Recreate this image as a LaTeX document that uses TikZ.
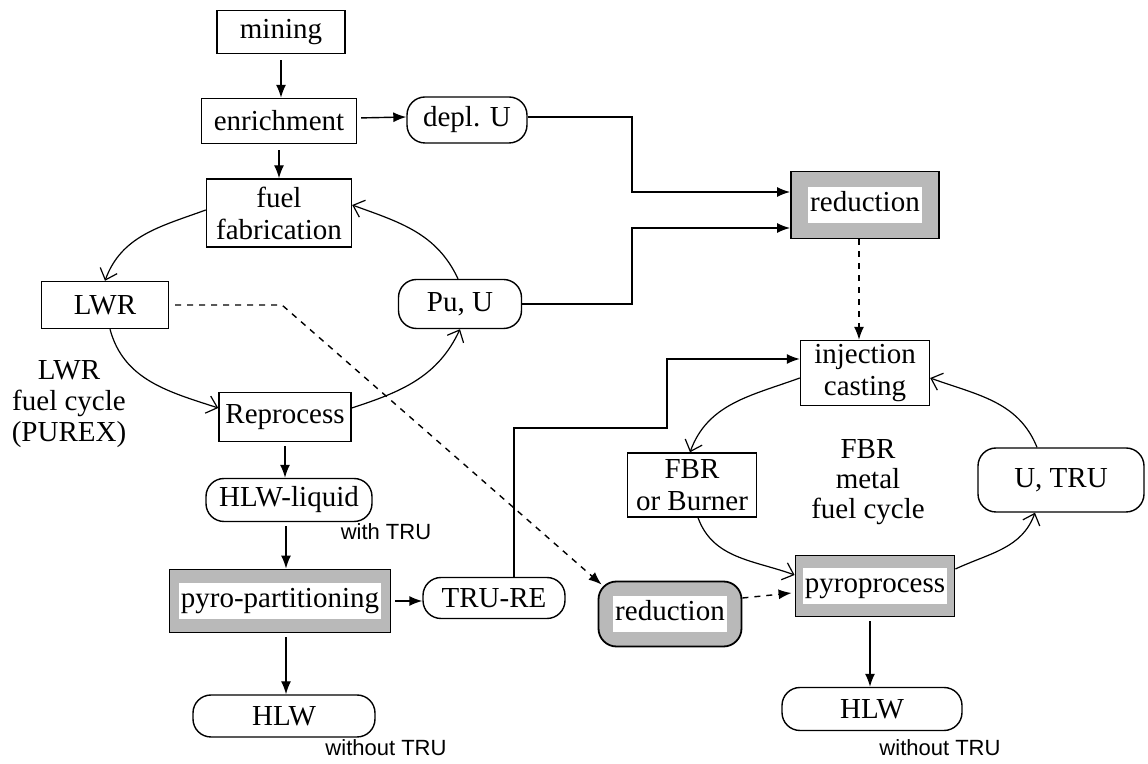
\documentclass[tikz,border=0pt]{standalone}
\usepackage{fontspec}
\setmainfont{Liberation Serif}
\newfontfamily\labfont{Liberation Sans}
\usetikzlibrary{arrows.meta,calc}
\newcommand\wbox[1]{{\setlength{\fboxsep}{1pt}\colorbox{white}{\strut #1}}}
\begin{document}
\begin{tikzpicture}[x=0.5pt,y=0.5pt,
  font=\fontsize{14.5}{16}\selectfont,
  box/.style={draw, line width=0.7pt, inner sep=0pt, align=center},
  pill/.style={box, rounded corners=9pt},
  shadebox/.style={box, fill=gray!55, line width=0.9pt},
  arr/.style={line width=0.7pt, -{Latex[length=6.5pt,width=5pt]}},
  cyc/.style={line width=0.6pt, -{Straight Barb[length=5pt,width=9pt]}},
  dsh/.style={arr, dash pattern=on 3pt off 3pt},
  note/.style={font=\labfont\fontsize{11}{12}\selectfont, inner sep=0pt}]
\useasboundingbox (0,0) rectangle (1148,-764);

% left column
\node[box, minimum width=64pt, minimum height=21.5pt] (mining) at (281,-32) {mining};
\node[box, minimum width=77.5pt, minimum height=22.5pt] (enrich) at (279,-121) {enrichment};
\node[pill, minimum width=60pt, minimum height=23pt] (deplU) at (467,-120) {depl. U};
\node[box, minimum width=72.5pt, minimum height=34pt] (fab) at (279,-213) {fuel\\fabrication};
\node[box, minimum width=63.5pt, minimum height=23.5pt] (LWR) at (105,-305) {LWR};
\node[pill, minimum width=61.5pt, minimum height=24.5pt] (PuU) at (460,-304) {Pu, U};
\node[box, minimum width=66pt, minimum height=24.5pt] (Rep) at (285,-417) {Reprocess};
\node[pill, minimum width=83pt, minimum height=21.5pt] (HLWliq) at (289,-500) {HLW-liquid};
\node[shadebox, minimum width=110.5pt, minimum height=31.5pt] (pp) at (280,-601) {\wbox{pyro-partitioning}};
\node[pill, minimum width=71pt, minimum height=20.5pt] (TRURE) at (494,-598) {TRU-RE};
\node[pill, minimum width=91pt, minimum height=21pt] (HLWL) at (284,-716) {HLW};

\node[align=center, font=\fontsize{14.5}{15.5}\selectfont] (lwrtxt) at (69,-404) {LWR\\fuel cycle\\(PUREX)};
\node[note] (withtru) at (386,-532) {with TRU};
\node[note] (wo1) at (386,-748) {without TRU};

% right column
\node[shadebox, minimum width=74pt, minimum height=33.5pt] (redtop) at (865,-205) {\wbox{reduction}};
\node[box, minimum width=64.5pt, minimum height=32.5pt] (inj) at (865,-373) {injection\\casting};
\node[box, minimum width=64.5pt, minimum height=32pt] (FBR) at (692,-485) {FBR\\or Burner};
\node[pill, minimum width=83pt, minimum height=32pt] (UTRU) at (1061,-480) {U, TRU};
\node[shadebox, minimum width=79.5pt, minimum height=30.5pt] (pyro) at (875,-586) {\wbox{pyroprocess}};
\node[shadebox, rounded corners=9pt, minimum width=71.5pt, minimum height=32.5pt] (redbot) at (670,-614) {\wbox{reduction}};
\node[pill, minimum width=90pt, minimum height=21.5pt] (HLWR) at (872,-709) {HLW};
\node[align=center, font=\fontsize{14.5}{15}\selectfont] (fbrtxt) at (868,-482) {FBR\\metal\\fuel cycle};
\node[note] (wo2) at (940,-748) {without TRU};

% straight connectors
\draw[arr, shorten <=3pt] (mining.south) -- (mining.south |- enrich.north);
\draw[arr, shorten <=3pt] (enrich.south) -- (enrich.south |- fab.north);
\draw[arr, shorten <=2pt] ($(enrich.east)+(0,3)$) -- ($(deplU.west)+(0,3)$);
\draw[arr, shorten <=2pt] (Rep.south) -- (Rep.south |- HLWliq.north);
\draw[arr, shorten <=2pt] ($(HLWliq.south)+(-3,0)$) -- ($(HLWliq.south |- pp.north)+(-3,0)$);
\draw[arr, shorten <=2pt] ($(pp.south)+(6,0)$) -- ($(pp.south |- HLWL.north)+(6,0)$);
\draw[arr, shorten <=2pt] (pp.east) -- (pp.east -| TRURE.west);
\draw[arr, shorten <=2pt] ($(pyro.south)+(-5,0)$) -- ($(pyro.south |- HLWR.north)+(-5,0)$);

\draw[arr] ($(deplU.east)+(0,3)$) -| (632,-192) -- ($(redtop.west)+(0,13)$);
\draw[arr] (PuU.east) -| (632,-228) -- ($(redtop.west)+(0,-23)$);
\coordinate (jog) at (667,-428);
\draw[arr] ($(TRURE.north)+(20,0)$) |- (jog) |- ($(inj.west)+(0,14)$);

% dashed connectors
\coordinate (bend) at (282,-305);
\draw[dsh, shorten <=3pt] (LWR.east) -- (bend) -- ($(redbot.north west)+(4,-4)$);
\draw[dsh] ($(redtop.south)+(-6,0)$) -- ($(inj.north)+(-6,0)$);
\draw[dsh] ($(redbot.east)+(0,16)$) -- ($(pyro.west)+(-3,-7)$);

% LWR cycle
\draw[cyc] ($(fab.west)+(0,3)$) to[out=200,in=70] (LWR.north);
\draw[cyc] ($(LWR.south)+(5,0)$) to[out=-75,in=162] ($(Rep.west)+(0,9)$);
\draw[cyc] ($(Rep.east)+(0,9)$) to[out=18,in=-115] (PuU.south);
\draw[cyc] ($(PuU.north)+(-2,0)$) to[out=115,in=-20] ($(fab.east)+(0,8)$);

% FBR cycle
\draw[cyc] ($(inj.west)+(0,-5)$) to[out=200,in=70] ($(FBR.north)+(-2,0)$);
\draw[cyc] ($(FBR.south)+(6,0)$) to[out=-70,in=160] ($(pyro.west)+(0,11)$);
\draw[cyc] ($(pyro.east)+(0,17)$) to[out=25,in=-110] ($(UTRU.south)+(-26,0)$);
\draw[cyc] ($(UTRU.north)+(-24,0)$) to[out=112,in=-20] ($(inj.east)+(0,-5)$);
\end{tikzpicture}
\end{document}
